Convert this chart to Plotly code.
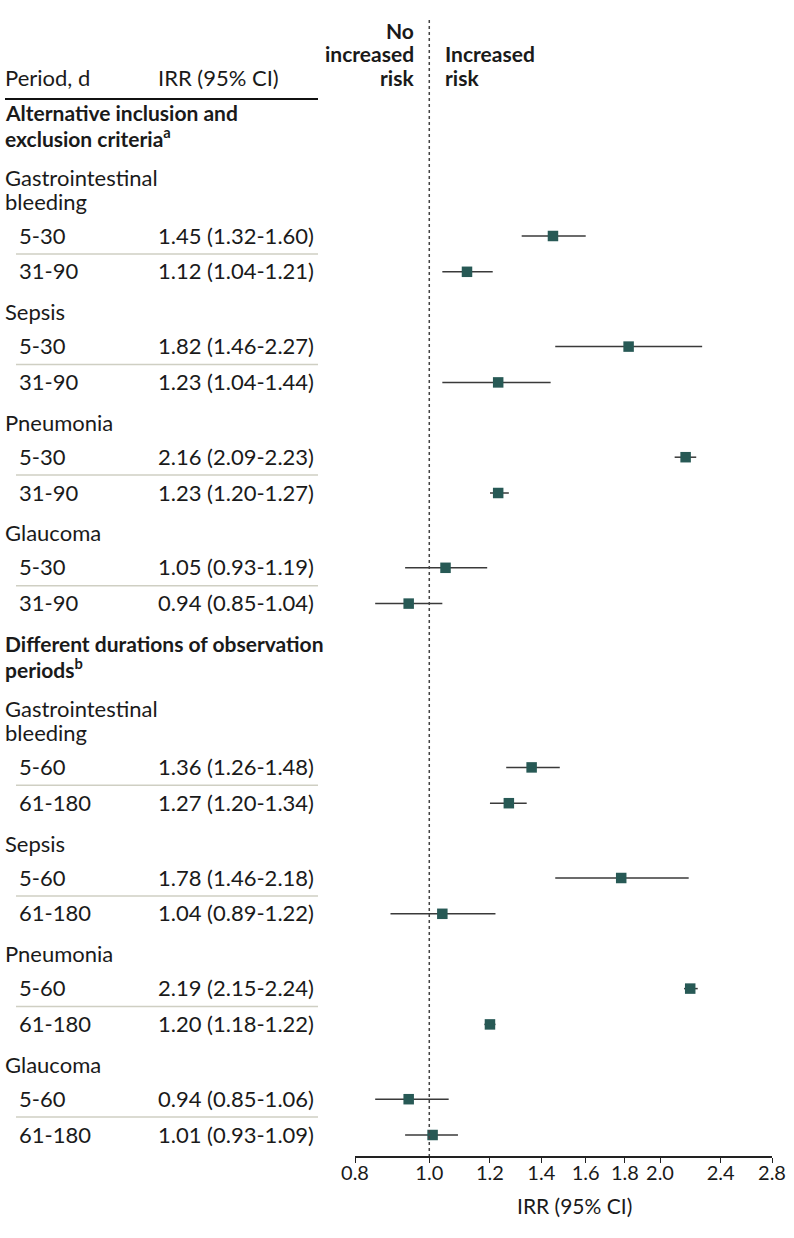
import math
import plotly.graph_objects as go

# ---------------- data ----------------
section_titles = [
    ["Alternative inclusion and", "exclusion criteria<sup>a</sup>"],
    ["Different durations of observation", "periods<sup>b</sup>"],
]
outcomes = [["Gastrointestinal", "bleeding"], ["Sepsis"], ["Pneumonia"], ["Glaucoma"]]
periods_a = ["5-30", "31-90"]
periods_b = ["5-60", "61-180"]

irr_a = [1.45, 1.12, 1.82, 1.23, 2.16, 1.23, 1.05, 0.94]
lo_a = [1.32, 1.04, 1.46, 1.04, 2.09, 1.20, 0.93, 0.85]
hi_a = [1.60, 1.21, 2.27, 1.44, 2.23, 1.27, 1.19, 1.04]

irr_b = [1.36, 1.27, 1.78, 1.04, 2.19, 1.20, 0.94, 1.01]
lo_b = [1.26, 1.20, 1.46, 0.89, 2.15, 1.18, 0.85, 0.93]
hi_b = [1.48, 1.34, 2.18, 1.22, 2.24, 1.22, 1.06, 1.09]

tick_vals = [0.8, 1.0, 1.2, 1.4, 1.6, 1.8, 2.0, 2.4, 2.8]
tick_text = ["0.8", "1.0", "1.2", "1.4", "1.6", "1.8", "2.0", "2.4", "2.8"]

# ---------------- layout constants ----------------
W, H = 794, 1238
AX_Y = 1156          # pixel of x-axis line
FONT = "Lato"
FS = 22
FS_BOLD = 21
TXT = "#1a1a1a"
MARK = "#275955"

def px(x):
    return x / W

def py(y):
    return 1 - y / H

# row layout (y in pixel-like axis units)
WRAP_HEAD, HEAD_GAP, WRAP_OUT, OUT_ROW, ROW_ROW, ROW_NEXT = 25, 40, 24, 35, 35.8, 39.8

annotations = []
shapes = []
row_y, row_period, row_irr, row_lo, row_hi = [], [], [], [], []

def add_text(x, y, text, bold=False, anchor="left", yref="y", size=None):
    if size is None:
        size = FS_BOLD if bold else FS
    annotations.append(dict(
        x=x, y=y, xref="paper", yref=yref, text=f"<b>{text}</b>" if bold else text,
        showarrow=False, xanchor=anchor, yanchor="middle",
        font=dict(family=FONT, size=size, color=TXT)))

cur = 112
datasets = [(periods_a, irr_a, lo_a, hi_a), (periods_b, irr_b, lo_b, hi_b)]
for s, (periods, irr, lo, hi) in enumerate(datasets):
    for i, line in enumerate(section_titles[s]):
        add_text(px(3), cur, line, bold=True)
        if i < len(section_titles[s]) - 1:
            cur += WRAP_HEAD
    cur += HEAD_GAP
    for o, out in enumerate(outcomes):
        for i, line in enumerate(out):
            add_text(px(3), cur, line)
            if i < len(out) - 1:
                cur += WRAP_OUT
        cur += OUT_ROW
        for k in range(2):
            idx = o * 2 + k
            row_y.append(cur)
            row_period.append(periods[k])
            row_irr.append(irr[idx])
            row_lo.append(lo[idx])
            row_hi.append(hi[idx])
            add_text(px(17), cur - 1, periods[k])
            add_text(px(156), cur - 1, f"{irr[idx]:.2f} ({lo[idx]:.2f}-{hi[idx]:.2f})")
            if k == 0:
                shapes.append(dict(type="line", xref="paper", yref="y",
                                   x0=px(16), x1=px(318), y0=cur + ROW_ROW / 2, y1=cur + ROW_ROW / 2,
                                   line=dict(color="#cfcfc3", width=1.5)))
                cur += ROW_ROW
        cur += ROW_NEXT

# header
add_text(px(3), 77, "Period, d")
add_text(px(156), 77, "IRR (95% CI)")
shapes.append(dict(type="line", xref="paper", yref="y", x0=px(5), x1=px(318), y0=99, y1=99,
                   line=dict(color="#111111", width=2)))

# risk labels
for y, t in [(30, "No"), (53, "increased"), (77, "risk")]:
    add_text(px(416), y, t, bold=True, anchor="right")
for y, t in [(53, "Increased"), (77, "risk")]:
    add_text(px(443), y, t, bold=True, anchor="left")

# reference line at IRR = 1
shapes.append(dict(type="line", xref="x", yref="y", x0=1, x1=1, y0=20, y1=AX_Y,
                   line=dict(color="#444444", width=1.5, dash="dot")))

# axis title
annotations.append(dict(x=px(574), y=py(1205), xref="paper", yref="paper", text="IRR (95% CI)",
                        showarrow=False, xanchor="center", yanchor="middle",
                        font=dict(family=FONT, size=21, color=TXT)))

fig = go.Figure()
fig.add_trace(go.Scatter(
    x=row_irr, y=row_y, mode="markers",
    marker=dict(symbol="square", size=10.5, color=MARK, line=dict(width=0)),
    error_x=dict(type="data", symmetric=False,
                 array=[h - v for h, v in zip(row_hi, row_irr)],
                 arrayminus=[v - l for v, l in zip(row_irr, row_lo)],
                 width=0, thickness=1.5, color="#3a3a3a"),
    showlegend=False, hoverinfo="skip"))

fig.update_layout(
    width=W, height=H, margin=dict(l=0, r=0, t=0, b=0),
    paper_bgcolor="white", plot_bgcolor="white",
    showlegend=False,
    xaxis=dict(type="log", domain=[px(355), px(772)],
               range=[math.log10(0.8), math.log10(2.8)],
               tickvals=tick_vals, ticktext=tick_text,
               ticks="outside", ticklen=5, tickwidth=1.2, tickcolor="#222",
               ticklabelstandoff=-7,
               showline=True, linecolor="#222", linewidth=1.5,
               showgrid=False, zeroline=False, automargin=False,
               tickfont=dict(family=FONT, size=20, color=TXT)),
    yaxis=dict(domain=[1 - AX_Y / H, 1], range=[AX_Y, 0], visible=False, automargin=False),
    annotations=annotations, shapes=shapes,
)

fig.write_html("out.html", config={"displayModeBar": False},
               post_script="document.body.style.margin='0';")
